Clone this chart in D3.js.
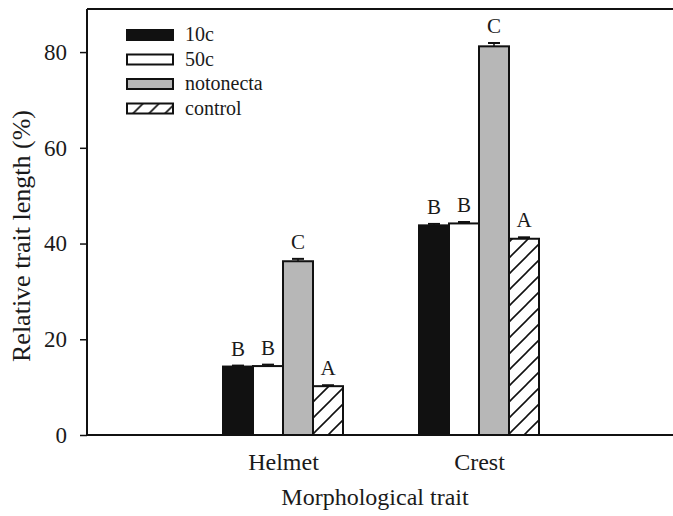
<!DOCTYPE html>
<html>
<head>
<meta charset="utf-8">
<script src="https://cdn.jsdelivr.net/npm/d3@7"></script>
<style>
  body { margin: 0; background: #fff; }
  text { font-family: "Liberation Serif", "Times New Roman", serif; fill: #1a1a1a; }
</style>
</head>
<body>
<div id="chart"></div>
<script>
// data
var traits = ["Helmet", "Crest"];
var treatments = ["10c", "50c", "notonecta", "control"];
var means = [
  [14.3, 14.4, 36.3, 10.2],
  [43.8, 44.2, 81.2, 41.0]
];
var errors = [
  [0.2, 0.3, 0.5, 0.2],
  [0.3, 0.3, 0.7, 0.3]
];
var letters = [
  ["B", "B", "C", "A"],
  ["B", "B", "C", "A"]
];
var yTicks = [0, 20, 40, 60, 80];

var width = 673, height = 516;
var plotLeft = 87, plotRight = 675, plotTop = 9, plotBottom = 435;

var svg = d3.select("#chart")
  .append("svg")
    .attr("width", width)
    .attr("height", height);

var defs = svg.append("defs");
var hatch = defs.append("pattern")
    .attr("id", "hatch")
    .attr("patternUnits", "userSpaceOnUse")
    .attr("width", 16)
    .attr("height", 16);
hatch.append("path")
    .attr("d", "M-4,4 L4,-4 M0,16 L16,0 M12,20 L20,12")
    .attr("stroke", "#111")
    .attr("stroke-width", 1.6);

var fills = {
  "10c": "#111",
  "50c": "#fff",
  "notonecta": "#b7b7b7",
  "control": "url(#hatch)"
};

var x0 = d3.scalePoint()
  .domain(traits)
  .range([plotLeft, plotRight])
  .padding(1);

var x1 = d3.scaleBand()
  .domain(treatments)
  .range([-60, 60]);

var y = d3.scaleLinear()
  .domain([0, 89])
  .range([plotBottom, plotTop]);

// top frame line
svg.append("line")
  .attr("x1", plotLeft).attr("x2", width)
  .attr("y1", plotTop).attr("y2", plotTop)
  .attr("stroke", "#111").attr("stroke-width", 2);

// bars
traits.forEach(function(t, i) {
  var g = svg.append("g").attr("transform", "translate(" + x0(t) + ",0)");
  treatments.forEach(function(s, j) {
    var v = means[i][j], e = errors[i][j];
    var bx = x1(s), bw = x1.bandwidth();
    var cx = bx + bw / 2;
    // error bar
    g.append("line")
      .attr("x1", cx).attr("x2", cx)
      .attr("y1", y(v)).attr("y2", y(v + e))
      .attr("stroke", "#111").attr("stroke-width", 1.5);
    g.append("line")
      .attr("x1", cx - 6).attr("x2", cx + 6)
      .attr("y1", y(v + e)).attr("y2", y(v + e))
      .attr("stroke", "#111").attr("stroke-width", 2);
    g.append("rect")
      .attr("x", bx)
      .attr("y", y(v))
      .attr("width", bw)
      .attr("height", y(0) - y(v))
      .attr("fill", fills[s])
      .attr("stroke", "#111")
      .attr("stroke-width", 2);
    g.append("text")
      .attr("x", cx)
      .attr("y", y(v + e) - 10)
      .attr("text-anchor", "middle")
      .attr("font-size", 21)
      .text(letters[i][j]);
  });
});

// y axis
var yAxis = svg.append("g")
  .attr("transform", "translate(" + plotLeft + ",0)")
  .call(d3.axisLeft(y).tickValues(yTicks).tickSize(7).tickPadding(13));
yAxis.select(".domain").attr("d", "M0," + plotTop + "V" + plotBottom).attr("stroke", "#111").attr("stroke-width", 2);
yAxis.selectAll(".tick line").attr("stroke", "#111").attr("stroke-width", 1.5);
yAxis.selectAll(".tick text")
  .attr("font-family", "Liberation Serif")
  .attr("font-size", 23)
  .attr("fill", "#1a1a1a");

// x axis
var xAxis = svg.append("g")
  .attr("transform", "translate(0," + plotBottom + ")")
  .call(d3.axisBottom(x0).tickSize(0).tickPadding(18));
xAxis.select(".domain").attr("d", "M" + plotLeft + ",0H" + width).attr("stroke", "#111").attr("stroke-width", 2);
xAxis.selectAll(".tick text")
  .attr("font-family", "Liberation Serif")
  .attr("font-size", 24)
  .attr("fill", "#1a1a1a");

// axis titles
svg.append("text")
  .attr("x", 375)
  .attr("y", 505)
  .attr("text-anchor", "middle")
  .attr("font-size", 24)
  .text("Morphological trait");

svg.append("text")
  .attr("transform", "translate(30,236) rotate(-90)")
  .attr("text-anchor", "middle")
  .attr("font-size", 26)
  .text("Relative trait length (%)");

// legend
var legend = svg.append("g").attr("transform", "translate(127,30)");
treatments.forEach(function(s, j) {
  var row = legend.append("g").attr("transform", "translate(0," + (j * 24.5) + ")");
  row.append("rect")
    .attr("width", 46)
    .attr("height", 10)
    .attr("fill", fills[s])
    .attr("stroke", "#111")
    .attr("stroke-width", 2);
  row.append("text")
    .attr("x", 58)
    .attr("y", 11)
    .attr("font-size", 20)
    .text(s);
});
</script>
</body>
</html>
